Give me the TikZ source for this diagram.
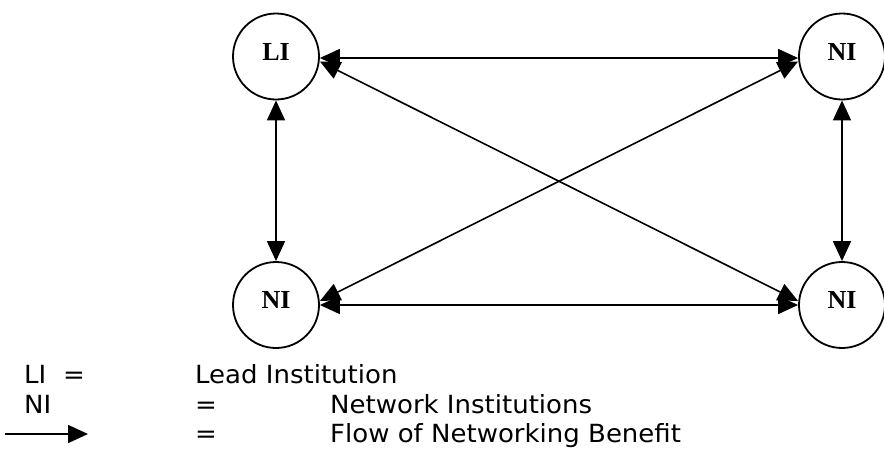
\documentclass[tikz,border=0pt]{standalone}
\usepackage{fontspec}
\setmainfont{DejaVu Sans}[FakeStretch=1.04]
\newfontfamily\labfont{Liberation Serif}
\usetikzlibrary{arrows.meta}
\begin{document}
\begin{tikzpicture}[x=1pt,y=-1pt,
  inst/.style={draw,circle,line width=1.8pt,minimum size=86pt,inner sep=0pt},
  biarrow/.style={line width=1.6pt,{Triangle[length=20pt,width=18pt]}-{Triangle[length=20pt,width=18pt]}},
  onearrow/.style={line width=1.6pt,-{Triangle[length=20pt,width=18pt]}},
  leg/.style={anchor=base west,inner sep=0pt,font=\fontsize{25}{29}\selectfont},
  ilab/.style={font=\labfont\bfseries\fontsize{26}{30}\selectfont}]
\useasboundingbox (0,0) rectangle (884,453);
\node[inst,label={[ilab,yshift=5pt]center:LI}] (li) at (276,56.5) {};
\node[inst,label={[ilab,yshift=5pt]center:NI}] (ntr) at (842,56.5) {};
\node[inst,label={[ilab,yshift=5pt]center:NI}] (nbl) at (276,305) {};
\node[inst,label={[ilab,yshift=5pt]center:NI}] (nbr) at (842,305) {};
\draw[biarrow] ([yshift=-1.5pt]li.east) -- ([yshift=-1.5pt]ntr.west);
\draw[biarrow] ([yshift=0pt]nbl.east) -- ([yshift=0pt]nbr.west);
\draw[biarrow] ([yshift=-5pt]li.east) -- ([yshift=4pt]nbr.west);
\draw[biarrow] ([yshift=4pt]nbl.east) -- ([yshift=-5pt]ntr.west);
\draw[biarrow] (li.south) -- (nbl.north);
\draw[biarrow] (ntr.south) -- (nbr.north);
\node[leg] (l1a) at (24,383) {LI};
\node[leg] (l1b) at (63,383) {=};
\node[leg] (l1c) at (195,383) {Lead Institution};
\node[leg] (l2a) at (24,413) {NI};
\node[leg] (l2b) at (195,413) {=};
\node[leg] (l2c) at (330,413) {Network Institutions};
\coordinate (as) at (5,434);
\coordinate (ae) at (88,434);
\draw[onearrow] (as) -- (ae);
\node[leg] (l3b) at (195,442) {=};
\node[leg] (l3c) at (330,442) {Flow of Networking Benefit};
\end{tikzpicture}
\end{document}
